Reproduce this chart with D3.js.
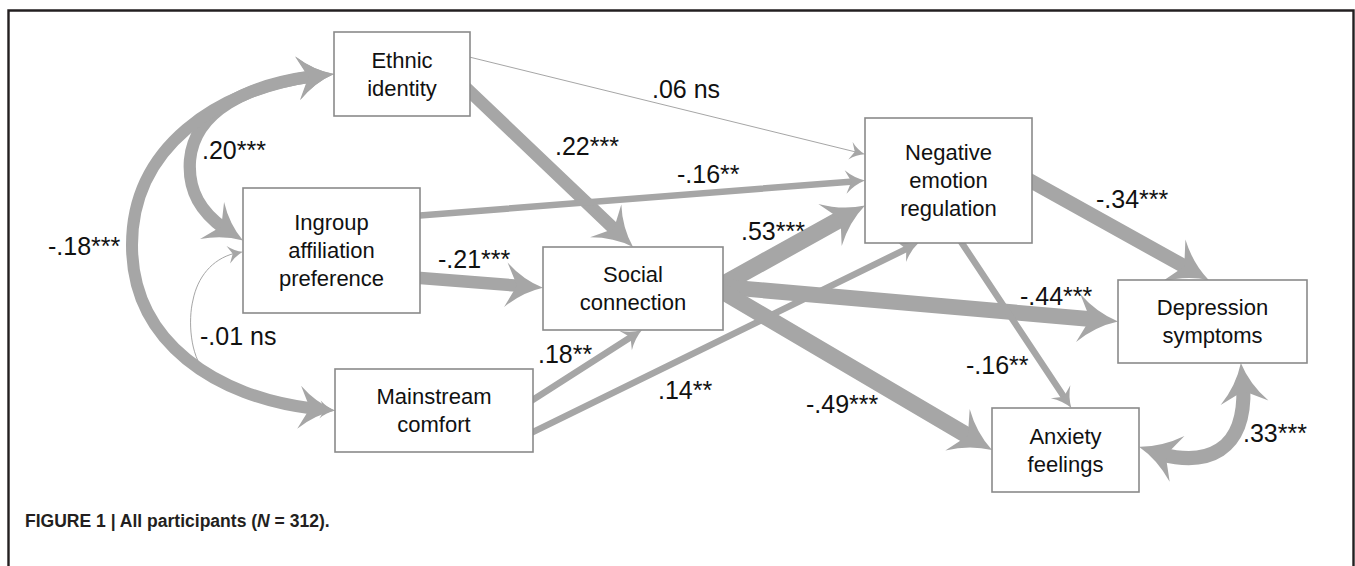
<!DOCTYPE html>
<html lang="en">
<head>
<meta charset="UTF-8">
<title>Figure 1 - All participants</title>
<style>
  body { margin: 0; background: #fff; }
  svg { display: block; font-family: "Liberation Sans", Arial, Helvetica, sans-serif; }
  .box rect { fill: #fff; stroke: #8a8a8a; stroke-width: 1.6px; }
  .box text { font-size: 22px; fill: #111; text-anchor: middle; }
  .coef { font-size: 25px; fill: #111; }
  .shaft { fill: none; stroke: #a6a6a6; }
  .head { fill: #a6a6a6; }
  .frame { fill: none; stroke: #231f20; stroke-width: 2.4px; }
  .caption { font-size: 19px; font-weight: bold; fill: #231f20; }
</style>
</head>
<body>
<script src="https://cdn.jsdelivr.net/npm/d3@7"></script>
<script>
var width = 1355, height = 566;

// model variables (one entry per text line)
var variables = [
  ["Ethnic", "identity"],
  ["Ingroup", "affiliation", "preference"],
  ["Mainstream", "comfort"],
  ["Social", "connection"],
  ["Negative", "emotion", "regulation"],
  ["Depression", "symptoms"],
  ["Anxiety", "feelings"]
];

// directed paths
var pathFrom = [0, 0, 1, 1, 2, 2, 3, 3, 3, 4, 4];
var pathTo   = [3, 4, 4, 3, 3, 4, 4, 5, 6, 5, 6];
var pathCoef = [.22, .06, -.16, -.21, .18, .14, .53, -.44, -.49, -.34, -.16];
var pathSig  = ["***", "ns", "**", "***", "**", "**", "***", "***", "***", "***", "**"];

// covariances (double headed curves)
var covFrom = [2, 0, 0, 5];
var covTo   = [1, 1, 2, 6];
var covCoef = [-.01, .20, -.18, .33];
var covSig  = ["ns", "***", "***", "***"];

var caption = ["FIGURE 1 | All participants (", "N", " = 312)."];

// ---- layout ----
var boxes = [
  [334, 32, 136, 84],
  [243, 188, 177, 125],
  [335, 369, 198, 83],
  [543, 247, 180, 83],
  [865, 118, 167, 125],
  [1118, 280, 189, 83],
  [992, 408, 147, 84]
];

// where a path leaves / enters a box: side, fraction along that side
var pathPorts = [
  [["r", .71], ["t", .50]],
  [["r", .30], ["l", .29]],
  [["r", .22], ["l", .50]],
  [["r", .72], ["l", .49]],
  [["r", .37], ["b", .55]],
  [["r", .76], ["b", .32]],
  [["r", .45], ["l", .70]],
  [["r", .48], ["l", .50]],
  [["r", .54], ["l", .50]],
  [["r", .51], ["t", .48]],
  [["b", .58], ["t", .54]]
];
var pathLabelXY = [[555, 155], [652, 98], [677, 183], [438, 268], [538, 363], [658, 399],
                   [741, 240], [1020, 305], [806, 413], [1096, 208], [966, 374]];

var covPorts = [
  [["l", .50], ["l", .51]],
  [["l", .50], ["l", .42]],
  [["l", .50], ["l", .50]],
  [["b", .65], ["r", .46]]
];
// cubic control points between the two ports (c1, c2, p, c1, c2, p, ..., c1, c2)
var covBends = [
  [[290, 408], [240, 395], [205, 372], [190, 355], [188, 320], [193, 300], [198, 275], [215, 255]],
  [[260, 80], [195, 105], [190, 160], [187, 200], [210, 222]],
  [[230, 82], [132, 140], [132, 245], [132, 350], [230, 405]],
  [[1257, 464], [1195, 470]]
];
var covLabelXY = [[200, 345], [202, 159], [48, 255], [1243, 442]];

var svg = d3.select("body").append("svg")
    .attr("width", width)
    .attr("height", height);

// arrow width from coefficient size and significance
var strong = d3.scaleLinear().domain([.18, .53]).range([12, 17]);
function lineWidth(c, s) {
  if (s === "ns") return 1;
  if (s === "**") return 6.5;
  return strong(Math.abs(c));
}
function headLength(w) { return Math.max(15, Math.min(40, 3 * w)); }

function port(i, p) {
  var b = boxes[i], side = p[0], t = p[1];
  if (side === "l") return [b[0], b[1] + t * b[3]];
  if (side === "r") return [b[0] + b[2], b[1] + t * b[3]];
  if (side === "t") return [b[0] + t * b[2], b[1]];
  return [b[0] + t * b[2], b[1] + b[3]];
}

function fmt(c) { return (c < 0 ? "-" : "") + d3.format(".2f")(Math.abs(c)).replace("0.", "."); }

var arcs = svg.append("g"), lines = svg.append("g");

function addHead(g, node, at, dir, L) {
  var H = L * .6;
  var tip = node.getPointAtLength(at),
      back = node.getPointAtLength(at + dir * L * .7);
  var ang = Math.atan2(tip.y - back.y, tip.x - back.x) * 180 / Math.PI;
  var p = d3.path();
  p.moveTo(0, 0);
  p.quadraticCurveTo(-L * .55, -H * .28, -L, -H);
  p.lineTo(-L * .7, 0);
  p.lineTo(-L, H);
  p.quadraticCurveTo(-L * .55, H * .28, 0, 0);
  p.closePath();
  g.append("path")
      .attr("class", "head")
      .attr("d", p.toString())
      .attr("transform", "translate(" + tip.x + "," + tip.y + ")rotate(" + ang + ")");
}

function arrow(g, d, w, twoHeads) {
  var shaft = g.append("path")
      .attr("class", "shaft")
      .attr("d", d)
      .style("stroke-width", w);
  var node = shaft.node(), len = node.getTotalLength();
  var L = headLength(w), cut = L * .6, a = twoHeads ? cut : 0;
  shaft.attr("stroke-dasharray", [0, a, len - a - cut, len].join(","));
  addHead(g, node, len, -1, L);
  if (twoHeads) addHead(g, node, 0, 1, L);
}

// covariance curves
covFrom.forEach(function(f, i) {
  var p0 = port(f, covPorts[i][0]), p1 = port(covTo[i], covPorts[i][1]);
  var pts = covBends[i].concat([p1]);
  var p = d3.path();
  p.moveTo(p0[0], p0[1]);
  for (var k = 0; k < pts.length; k += 3)
    p.bezierCurveTo(pts[k][0], pts[k][1], pts[k + 1][0], pts[k + 1][1], pts[k + 2][0], pts[k + 2][1]);
  arrow(arcs, p.toString(), lineWidth(covCoef[i], covSig[i]), true);
});

// regression paths
pathFrom.forEach(function(f, i) {
  var w = lineWidth(pathCoef[i], pathSig[i]);
  var p0 = port(f, pathPorts[i][0]), p1 = port(pathTo[i], pathPorts[i][1]);
  var dx = p1[0] - p0[0], dy = p1[1] - p0[1], n = Math.sqrt(dx * dx + dy * dy);
  var p = d3.path();
  p.moveTo(p0[0] - dx / n * w, p0[1] - dy / n * w); // start a bit inside the box
  p.lineTo(p1[0], p1[1]);
  arrow(lines, p.toString(), w, false);
});

// boxes
var box = svg.append("g").selectAll("g")
    .data(variables)
  .join("g")
    .attr("class", "box");

box.append("rect")
    .attr("x", function(d, i) { return boxes[i][0]; })
    .attr("y", function(d, i) { return boxes[i][1]; })
    .attr("width", function(d, i) { return boxes[i][2]; })
    .attr("height", function(d, i) { return boxes[i][3]; });

box.each(function(d, i) {
  var b = boxes[i], cx = b[0] + b[2] / 2, cy = b[1] + b[3] / 2, lh = 28;
  d3.select(this).selectAll("text")
      .data(d)
    .join("text")
      .attr("x", cx)
      .attr("y", function(t, j) { return cy + (j - (d.length - 1) / 2) * lh + 7.7; })
      .text(function(t) { return t; });
});

// coefficient labels
var labels = svg.append("g");
pathCoef.forEach(function(c, i) {
  labels.append("text")
      .attr("class", "coef")
      .attr("x", pathLabelXY[i][0])
      .attr("y", pathLabelXY[i][1])
      .text(fmt(c) + (pathSig[i] === "ns" ? " ns" : pathSig[i]));
});
covCoef.forEach(function(c, i) {
  labels.append("text")
      .attr("class", "coef")
      .attr("x", covLabelXY[i][0])
      .attr("y", covLabelXY[i][1])
      .text(fmt(c) + (covSig[i] === "ns" ? " ns" : covSig[i]));
});

// frame and caption
svg.append("path")
    .attr("class", "frame")
    .attr("d", "M8.5," + height + "V10.5H1353.5V" + height);

// condensed bold caption: squeeze horizontally to the reference width
var capG = svg.append("g");
var cap = capG.append("text")
    .attr("class", "caption")
    .attr("x", 0)
    .attr("y", 0);
cap.append("tspan").text(caption[0]);
cap.append("tspan").style("font-style", "italic").text(caption[1]);
cap.append("tspan").text(caption[2]);
var capW = cap.node().getComputedTextLength();
capG.attr("transform", "translate(25,527)scale(" + (305 / capW) + ",1)");
</script>
</body>
</html>
